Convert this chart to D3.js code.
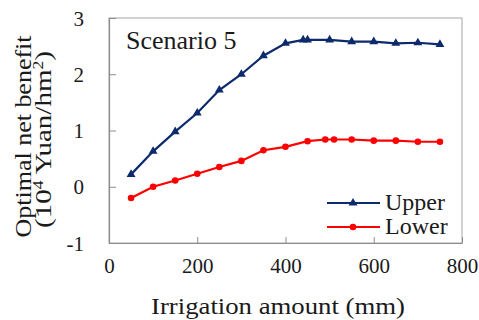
<!DOCTYPE html>
<html><head><meta charset="utf-8">
<script src="https://cdn.jsdelivr.net/npm/d3@7"></script>
<style>body{margin:0;background:#fff;} svg{display:block;}</style>
</head><body>
<svg id="c" width="479" height="320"></svg>
<script>
const upperX = [50,100,150,200,250,300,350,400,440,450,500,550,600,650,700,750];
const upperY = [0.22,0.63,0.98,1.31,1.72,2.00,2.33,2.55,2.61,2.61,2.61,2.58,2.58,2.55,2.56,2.53];
const lowerX = [50,100,150,200,250,300,350,400,450,490,510,550,600,650,700,750];
const lowerY = [-0.20,0.00,0.11,0.23,0.35,0.46,0.65,0.71,0.81,0.84,0.84,0.84,0.82,0.82,0.80,0.80];
const xTicks = [0,200,400,600,800];
const yTicks = [-1,0,1,2,3];
const seriesNames = ["Upper","Lower"];

const FONT = '"Liberation Serif","Times New Roman",Tinos,serif';
const svg = d3.select("#c");
const L=109, R=462, T=18, B=243;
const x = d3.scaleLinear().domain([0,800]).range([L,R]);
const y = d3.scaleLinear().domain([-1,3]).range([B,T]);
const axisCol = "#8c8c8c";
const txtCol = "#1a1a1a";

svg.append("rect").attr("x",L).attr("y",T).attr("width",R-L).attr("height",B-T)
  .attr("fill","none").attr("stroke","#a6a6a6").attr("stroke-width",1);

const xa = svg.append("g").attr("transform",`translate(0,${B})`)
  .call(d3.axisBottom(x).tickValues(xTicks).tickSizeInner(-6).tickSizeOuter(0).tickPadding(30).tickFormat(d=>String(d)));
const ya = svg.append("g").attr("transform",`translate(${L},0)`)
  .call(d3.axisLeft(y).tickValues(yTicks).tickSizeInner(-7).tickSizeOuter(0).tickPadding(25).tickFormat(d=>String(d)));
[xa,ya].forEach(g=>{
  g.select(".domain").attr("stroke",axisCol).attr("stroke-width",1.2);
  g.selectAll(".tick line").attr("stroke",axisCol);
  g.selectAll(".tick text").style("font-family",FONT).style("font-size","21px").attr("fill",txtCol);
});
xa.selectAll(".tick text").attr("dy","0");
ya.selectAll(".tick text").attr("dy","0.34em").attr("text-anchor","end");

const navy="#0c2a6c", red="#ff0000";
const line = d3.line().x(d=>x(d[0])).y(d=>y(d[1]));
const up = upperX.map((v,i)=>[v,upperY[i]]);
const lo = lowerX.map((v,i)=>[v,lowerY[i]]);
svg.append("path").datum(up).attr("d",line).attr("fill","none").attr("stroke",navy).attr("stroke-width",2.2);
svg.append("path").datum(lo).attr("d",line).attr("fill","none").attr("stroke",red).attr("stroke-width",2.2);
const tri = d3.symbol().type(d3.symbolTriangle).size(34);
svg.selectAll(".tu").data(up).join("path").attr("d",tri)
  .attr("transform",d=>`translate(${x(d[0])},${y(d[1])})`).attr("fill",navy);
svg.selectAll(".cl").data(lo).join("circle").attr("cx",d=>x(d[0])).attr("cy",d=>y(d[1])).attr("r",3.3).attr("fill",red);

function txt(sel){ return sel.style("font-family",FONT).attr("fill",txtCol); }

txt(svg.append("text")).attr("x",126).attr("y",49).style("font-size","26px").text("Scenario 5");

const leg = [{n:seriesNames[0],c:navy,t:"tri",yy:203},{n:seriesNames[1],c:red,t:"dot",yy:227}];
leg.forEach(l=>{
  svg.append("line").attr("x1",327).attr("x2",380).attr("y1",l.yy).attr("y2",l.yy).attr("stroke",l.c).attr("stroke-width",2.2);
  if(l.t==="tri") svg.append("path").attr("d",tri).attr("transform",`translate(353,${l.yy})`).attr("fill",l.c);
  else svg.append("circle").attr("cx",353).attr("cy",l.yy).attr("r",3.3).attr("fill",l.c);
  txt(svg.append("text")).attr("x",385).attr("y",l.yy+7).style("font-size","24px").text(l.n);
});

txt(svg.append("text")).attr("x",278).attr("y",314).attr("text-anchor","middle").style("font-size","23px")
  .attr("textLength",254).attr("lengthAdjust","spacingAndGlyphs").text("Irrigation amount (mm)");
const yt = svg.append("g").attr("transform",`translate(0,${(T+B)/2+3}) rotate(-90)`);
txt(yt.append("text")).attr("x",-3).attr("y",31).attr("text-anchor","middle").style("font-size","23px")
  .attr("textLength",202).attr("lengthAdjust","spacingAndGlyphs").text("Optimal net benefit");
const t2 = txt(yt.append("text")).attr("x",-6).attr("y",51).attr("text-anchor","middle").style("font-size","23px")
  .attr("textLength",177).attr("lengthAdjust","spacingAndGlyphs");
t2.append("tspan").text("(10");
t2.append("tspan").style("font-size","14px").attr("dy",-8).text("4");
t2.append("tspan").attr("dy",8).text(" Yuan/hm");
t2.append("tspan").style("font-size","14px").attr("dy",-8).text("2");
t2.append("tspan").attr("dy",8).text(")");
</script>
</body></html>
